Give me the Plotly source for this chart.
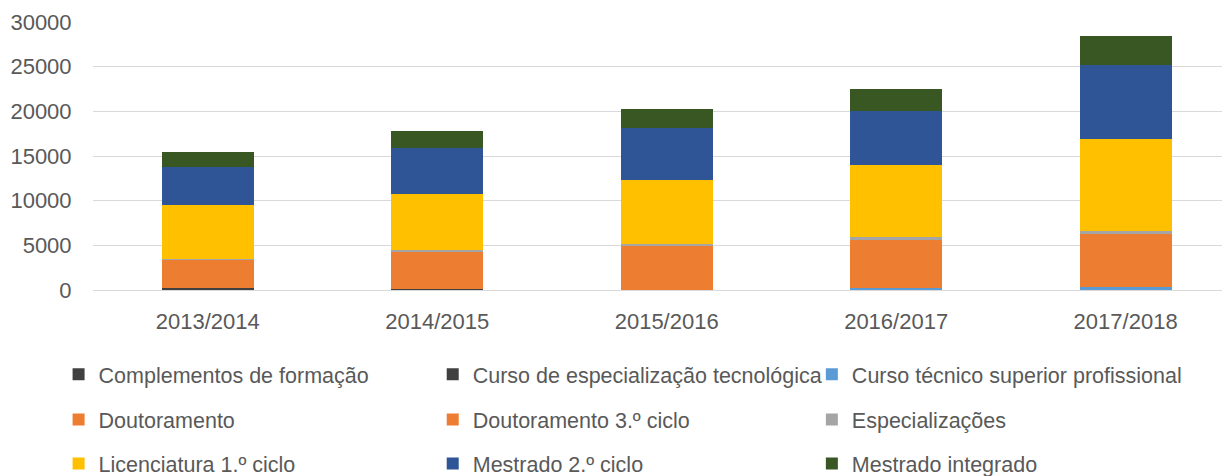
import plotly.graph_objects as go

categories = ["2013/2014", "2014/2015", "2015/2016", "2016/2017", "2017/2018"]

complementos = [80, 30, 20, 0, 0]
curso_esp_tec = [230, 120, 0, 0, 0]
ctesp = [0, 60, 90, 220, 336]
doutoramento = [150, 80, 40, 0, 0]
doutoramento_3 = [2900, 4050, 4854, 5378, 5977]
especializacoes = [160, 190, 190, 335, 290]
licenciatura = [6045, 6224, 7119, 8026, 10266]
mestrado_2 = [4209, 5194, 5866, 6123, 8283]
mestrado_int = [1645, 1825, 2126, 2463, 3227]

y_ticks = [0, 5000, 10000, 15000, 20000, 25000, 30000]

series = [
    ("Complementos de formação", complementos, "#404040"),
    ("Curso de especialização tecnológica", curso_esp_tec, "#404040"),
    ("Curso técnico superior profissional", ctesp, "#5B9BD5"),
    ("Doutoramento", doutoramento, "#ED7D31"),
    ("Doutoramento 3.º ciclo", doutoramento_3, "#ED7D31"),
    ("Especializações", especializacoes, "#A5A5A5"),
    ("Licenciatura 1.º ciclo", licenciatura, "#FFC000"),
    ("Mestrado 2.º ciclo", mestrado_2, "#2F5597"),
    ("Mestrado integrado", mestrado_int, "#385723"),
]

FONT = "Liberation Sans"
TXT = "#595959"

W, H = 1222, 476
ml, mr, mt, mb = 93.4, 0, 22, 186.3
pw = W - ml - mr
ph = H - mt - mb

def px_to_paper_y(py):
    return (H - mb - py) / ph

def px_to_paper_x(px):
    return (px - ml) / pw

# legend grid: text start columns and row centres (pixels)
col_text_x = [99, 473, 852]
row_y = [374, 419, 463]

fig = go.Figure()
legends = {}
for i, (name, vals, color) in enumerate(series):
    key = "legend" if i == 0 else f"legend{i + 1}"
    fig.add_trace(go.Bar(
        x=categories, y=vals, name=name, legend=key, showlegend=True,
        marker=dict(color=color, line=dict(width=0)),
    ))
    r, c = divmod(i, 3)
    legends[key] = dict(
        x=px_to_paper_x(col_text_x[c] - 40), y=px_to_paper_y(row_y[r]),
        xanchor="left", yanchor="middle", orientation="h",
        font=dict(family=FONT, size=21.5, color=TXT),
        bgcolor="rgba(0,0,0,0)", borderwidth=0,
        itemclick=False, itemdoubleclick=False,
    )

fig.update_layout(
    width=W, height=H,
    showlegend=True,
    margin=dict(l=ml, r=mr, t=mt, b=mb, pad=0, autoexpand=False),
    barmode="stack", bargap=0.599,
    plot_bgcolor="white", paper_bgcolor="white",
    font=dict(family=FONT, size=22, color=TXT),
    xaxis=dict(
        type="category", range=[-0.5, 4.42],
        showgrid=False, zeroline=False, showline=False,
        ticks="outside", ticklen=12, tickcolor="rgba(0,0,0,0)",
        tickfont=dict(family=FONT, size=22, color=TXT),
    ),
    yaxis=dict(
        range=[0, 30000], tickvals=y_ticks,
        ticktext=[str(v) for v in y_ticks],
        showgrid=True, gridcolor="#D9D9D9", gridwidth=1.3,
        zeroline=True, zerolinecolor="#D9D9D9", zerolinewidth=1.3,
        showline=False,
        ticks="outside", ticklen=16, tickcolor="rgba(0,0,0,0)",
        tickfont=dict(family=FONT, size=22, color=TXT),
    ),
    **legends,
)

fig.write_html("out.html")
